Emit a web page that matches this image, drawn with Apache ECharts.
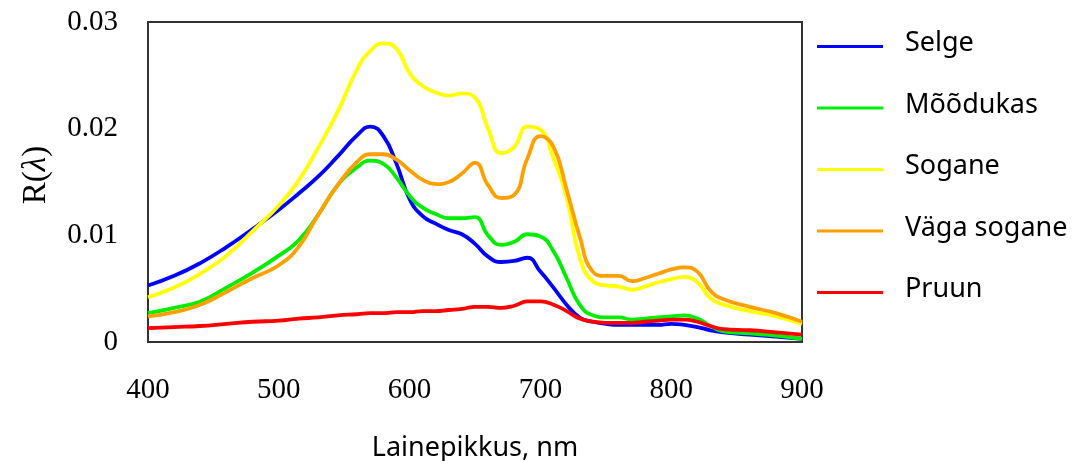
<!DOCTYPE html>
<html>
<head>
<meta charset="utf-8">
<script src="https://cdn.jsdelivr.net/npm/echarts@6/dist/echarts.min.js"></script>
<style>
  html, body { margin: 0; padding: 0; background: #fff; }
  #chart { width: 1081px; height: 461px; }
</style>
</head>
<body>
<div id="chart"></div>
<script>
// lainepikkus (nm)
const wavelengths = [400, 420, 440, 460, 480, 500, 515, 530, 545, 560, 570, 580, 590, 600, 610, 620, 630, 640, 650, 660,
  670, 680, 690, 700, 710, 720, 730, 740, 750, 760, 770, 780, 790, 800, 810, 820, 830, 840, 860, 880, 900]

const selge = [0.0053, 0.0062, 0.0074, 0.0089, 0.0106, 0.0124, 0.0139, 0.0155, 0.0174, 0.0194, 0.0202, 0.0193, 0.0167, 0.0134, 0.0118, 0.0111, 0.0105, 0.0101, 0.0092, 0.0080,
  0.0075, 0.0076, 0.0079, 0.0066, 0.0051, 0.0035, 0.0023, 0.0019, 0.0017, 0.0016, 0.0016, 0.0016, 0.0016, 0.0017, 0.0016, 0.0014, 0.0011, 0.0009, 0.0007, 0.0005, 0.0003]
const moodukas = [0.0027, 0.0032, 0.0038, 0.0051, 0.0065, 0.0081, 0.0095, 0.0119, 0.0147, 0.0164, 0.0170, 0.0167, 0.0154, 0.0137, 0.0126, 0.0120, 0.0116, 0.0116, 0.0117, 0.0100,
  0.0091, 0.0094, 0.0101, 0.0099, 0.0085, 0.0060, 0.0035, 0.0025, 0.0023, 0.0023, 0.0021, 0.0022, 0.0023, 0.0024, 0.0025, 0.0022, 0.0015, 0.0010, 0.0008, 0.0006, 0.0003]
const sogane = [0.0042, 0.0051, 0.0064, 0.0081, 0.0104, 0.0128, 0.0151, 0.0182, 0.0216, 0.0256, 0.0273, 0.0280, 0.0275, 0.0252, 0.0240, 0.0234, 0.0231, 0.0233, 0.0229, 0.0200,
  0.0177, 0.0183, 0.0202, 0.0199, 0.0172, 0.0136, 0.0079, 0.0057, 0.0053, 0.0052, 0.0049, 0.0052, 0.0056, 0.0059, 0.0061, 0.0056, 0.0041, 0.0035, 0.0029, 0.0024, 0.0017]
const vagaSogane = [0.0024, 0.0028, 0.0035, 0.0047, 0.0060, 0.0072, 0.0089, 0.0119, 0.0147, 0.0169, 0.0176, 0.0176, 0.0171, 0.0161, 0.0152, 0.0148, 0.0150, 0.0158, 0.0168, 0.0147,
  0.0135, 0.0138, 0.0172, 0.0193, 0.0183, 0.0143, 0.0099, 0.0066, 0.0062, 0.0062, 0.0057, 0.0060, 0.0064, 0.0068, 0.0070, 0.0066, 0.0048, 0.0040, 0.0033, 0.0027, 0.0019]
const pruun = [0.0013, 0.0014, 0.0015, 0.0017, 0.0019, 0.0020, 0.0022, 0.0023, 0.0025, 0.0026, 0.0027, 0.0027, 0.0028, 0.0028, 0.0029, 0.0029, 0.0030, 0.0031, 0.0033, 0.0033,
  0.0032, 0.0034, 0.0038, 0.0038, 0.0035, 0.0029, 0.0022, 0.0019, 0.0018, 0.0018, 0.0018, 0.0019, 0.0020, 0.0021, 0.0021, 0.0019, 0.0015, 0.0012, 0.0011, 0.0009, 0.0007]

const seriesNames = ['Selge', 'Mõõdukas', 'Sogane', 'Väga sogane', 'Pruun']
const seriesValues = [selge, moodukas, sogane, vagaSogane, pruun]
const colors = ['#0000ff', '#00ee00', '#ffff00', '#ffa000', '#ff0000']

const serifFont = '"Liberation Serif", "DejaVu Serif", serif'
const sansFont = '"Noto Sans", "Open Sans", sans-serif'

let seriesData = []
for (let i = 0; i < seriesNames.length; i++) {
  seriesData.push({
    name: seriesNames[i],
    type: 'line',
    data: wavelengths.map((w, k) => [w, seriesValues[i][k]]),
    smooth: 0.5,
    showSymbol: false,
    lineStyle: { width: 3.8, color: colors[i] },
    itemStyle: { color: colors[i] }
  })
}

const chart = echarts.init(document.getElementById('chart'))
const option = {
  animation: false,
  grid: {
    left: 148,
    top: 22,
    right: 279,
    bottom: 119,
    outerBoundsMode: 'none',
    show: true,
    borderColor: '#333',
    borderWidth: 2
  },
  legend: {
    orient: 'vertical',
    left: 817,
    top: 30,
    padding: 0,
    icon: 'rect',
    itemWidth: 66,
    itemHeight: 3,
    itemGap: 28.5,
    data: seriesNames,
    formatter: name => '{t|' + name + '}',
    textStyle: {
      color: '#000',
      fontFamily: sansFont,
      fontSize: 27,
      rich: {
        t: { color: '#000', fontFamily: sansFont, fontSize: 27, lineHeight: 30, padding: [0, 0, 6, 17] }
      }
    }
  },
  xAxis: {
    type: 'value',
    min: 400,
    max: 900,
    interval: 100,
    name: 'Lainepikkus, nm',
    nameLocation: 'middle',
    nameGap: 93,
    nameTextStyle: { color: '#000', fontFamily: sansFont, fontSize: 27 },
    axisLine: { show: false },
    axisTick: { show: false },
    splitLine: { show: false },
    axisLabel: { color: '#000', fontFamily: serifFont, fontSize: 29, margin: 34 }
  },
  yAxis: {
    type: 'value',
    min: 0,
    max: 0.03,
    interval: 0.01,
    name: '{p| }{a|R(}{b|λ}{a|)}',
    nameLocation: 'middle',
    nameRotate: 90,
    nameGap: 95,
    nameTextStyle: {
      fontFamily: serifFont,
      fontSize: 33,
      rich: {
        p: { width: 14, fontSize: 33 },
        a: { color: '#000', fontFamily: serifFont, fontSize: 33 },
        b: { color: '#000', fontFamily: serifFont, fontSize: 33, fontStyle: 'italic' }
      }
    },
    axisLine: { show: false },
    axisTick: { show: false },
    splitLine: { show: false },
    axisLabel: { color: '#000', fontFamily: serifFont, fontSize: 29, margin: 30 }
  },
  series: seriesData
}
chart.setOption(option)
</script>
</body>
</html>
